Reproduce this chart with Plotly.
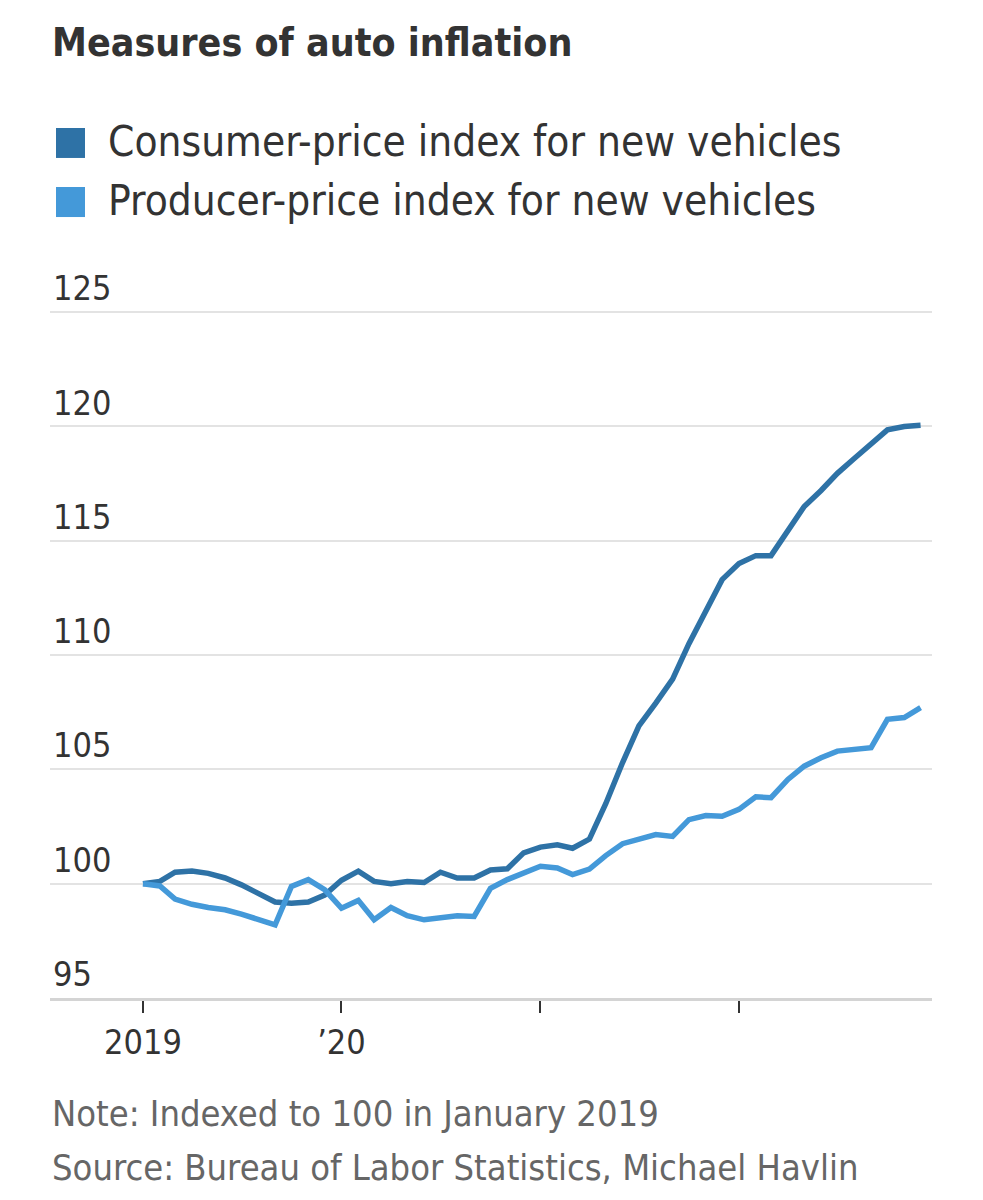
import pandas as pd
import plotly.graph_objects as go

# Monthly index values, Jan 2019 = 100
months = pd.date_range("2019-01-01", "2022-12-01", freq="MS")

cpi_new_vehicles = [
    100.0, 100.1, 100.5, 100.55, 100.45, 100.25, 99.95, 99.6, 99.2, 99.15, 99.2, 99.5,
    100.15, 100.55, 100.1, 100.0, 100.1, 100.05, 100.5, 100.25, 100.25, 100.6, 100.65, 101.35,
    101.6, 101.7, 101.55, 101.95, 103.5, 105.3, 106.9, 107.9, 108.95, 110.5, 111.9, 113.3,
    114.0, 114.35, 114.35, 115.4, 116.5, 117.2, 117.95, 118.6, 119.2, 119.85, 120.0, 120.05,
]
ppi_new_vehicles = [
    100.0, 99.9, 99.33, 99.1, 98.96, 98.86, 98.67, 98.42, 98.2, 99.88, 100.18, 99.74,
    98.93, 99.27, 98.42, 98.96, 98.6, 98.42, 98.5, 98.6, 98.57, 99.8, 100.18, 100.47,
    100.76, 100.69, 100.4, 100.64, 101.23, 101.75, 101.93, 102.15, 102.07, 102.8, 102.98, 102.95,
    103.25, 103.8, 103.76, 104.56, 105.14, 105.51, 105.8, 105.88, 105.95, 107.19, 107.27, 107.7,
]

series_names = ["Consumer-price index for new vehicles", "Producer-price index for new vehicles"]
colors = ["#2e72a6", "#4499d9"]

x_tickvals = ["2019-01-01", "2020-01-01", "2021-01-01", "2022-01-01"]
x_ticktext = ["2019", "\u201920", "", ""]
y_tickvals = [95, 100, 105, 110, 115, 120, 125]

font_main = "Liberation Sans Narrow, DejaVu Sans Condensed, Roboto, sans-serif"
text_col = "#333333"
note_col = "#666666"

fig = go.Figure()

for name, vals, col in zip(series_names, [cpi_new_vehicles, ppi_new_vehicles], colors):
    fig.add_trace(go.Scatter(x=months, y=vals, mode="lines", name=name,
                             line=dict(color=col, width=5.5), showlegend=False))

fig.update_layout(
    width=983, height=1200,
    margin=dict(l=42, r=59, t=247, b=210),
    paper_bgcolor="white", plot_bgcolor="white",
    font=dict(family=font_main, color=text_col, size=34),
    title=dict(text="<b>Measures of auto inflation</b>", x=44 / 983, xref="container", xanchor="left",
               y=1 - 34 / 1200, yanchor="middle",
               font=dict(size=39, color=text_col, family=font_main)),
    showlegend=False,
)

fig.update_xaxes(
    range=["2018-07-14", "2022-12-22"],
    tickvals=x_tickvals, ticktext=x_ticktext,
    showgrid=False, showline=True, linecolor="#d4d4d4", linewidth=3,
    ticks="outside", ticklen=12, tickwidth=2, tickcolor=text_col,
    tickfont=dict(size=34, color=text_col),
    zeroline=False,
)
fig.update_yaxes(
    range=[95, 127.5], tickvals=y_tickvals,
    showgrid=True, gridcolor="#e3e3e3", gridwidth=2,
    ticklabelposition="inside top", ticks="",
    tickfont=dict(size=34, color=text_col),
    zeroline=False, showline=False,
)

# legend: colour swatches and labels above the plot
swatch_y = [(1.1306, 1.1709), (1.0511, 1.0915)]
label_y = [1.1521, 1.0740]
for name, col, (y0, y1), ly in zip(series_names, colors, swatch_y, label_y):
    fig.add_shape(type="rect", xref="paper", yref="paper",
                  x0=6 / 882, x1=35 / 882, y0=y0, y1=y1,
                  fillcolor=col, line=dict(width=0))
    fig.add_annotation(text=name, xref="paper", yref="paper", x=0.064, y=ly,
                       xanchor="left", yanchor="middle", showarrow=False,
                       font=dict(size=42, color=text_col))

fig.add_annotation(text="Note: Indexed to 100 in January 2019", xref="paper", yref="paper",
                   x=0, y=-0.1548, xanchor="left", yanchor="middle", showarrow=False,
                   font=dict(size=36, color=note_col))
fig.add_annotation(text="Source: Bureau of Labor Statistics, Michael Havlin", xref="paper", yref="paper",
                   x=0, y=-0.2275, xanchor="left", yanchor="middle", showarrow=False,
                   font=dict(size=36, color=note_col))

fig.write_html("out.html")
